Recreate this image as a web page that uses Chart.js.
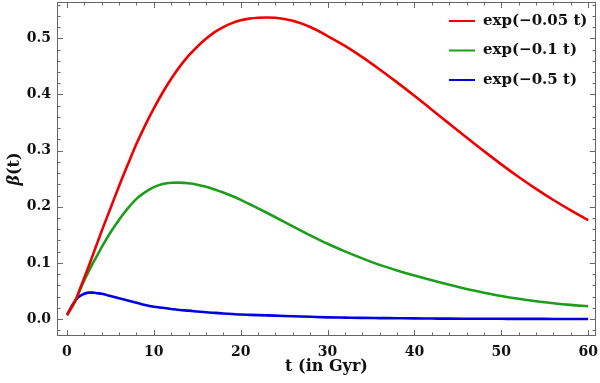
<!DOCTYPE html>
<html>
<head>
<meta charset="utf-8">
<script src="https://cdn.jsdelivr.net/npm/chart.js@4.4.1/dist/chart.umd.min.js"></script>
<style>
  html, body { margin: 0; padding: 0; background: #fff; }
  #wrap { width: 600px; height: 383px; }
</style>
</head>
<body>
<div id="wrap"><canvas id="c" width="600" height="383"></canvas></div>
<script>
// t (Gyr) sample positions, shared by all three curves
const T = [0, 0.5, 1, 1.5, 2, 2.5, 3, 3.5, 4, 5, 6, 7, 8, 9, 10, 11, 12, 13, 14, 15, 16, 17, 18, 19, 20,
           21, 22, 23, 24, 26, 28, 30, 32, 34, 36, 38, 40, 42, 44, 46, 48, 50, 52, 54, 56, 58, 60];

// beta(t)
const BETA_005 = [0.007, 0.020, 0.034, 0.054, 0.074, 0.094, 0.115, 0.136, 0.157, 0.197, 0.237, 0.275, 0.312, 0.345, 0.375,
                  0.403, 0.428, 0.450, 0.469, 0.485, 0.499, 0.511, 0.520, 0.527, 0.532,
                  0.535, 0.5365, 0.537, 0.5365, 0.531, 0.520, 0.504, 0.4865, 0.4665, 0.4445, 0.4215, 0.3975, 0.3728, 0.348, 0.3233,
                  0.299, 0.2755, 0.253, 0.2318, 0.212, 0.1935, 0.176];
const BETA_01  = [0.007, 0.020, 0.034, 0.052, 0.069, 0.085, 0.100, 0.114, 0.128, 0.154, 0.177, 0.197, 0.214, 0.226, 0.235,
                  0.2405, 0.2428, 0.243, 0.2418, 0.2392, 0.2355, 0.2308, 0.2252, 0.219, 0.2122,
                  0.2048, 0.1972, 0.1893, 0.1813, 0.165, 0.149, 0.134, 0.1205, 0.108, 0.0965, 0.0865, 0.0775, 0.069, 0.061, 0.0535,
                  0.047, 0.041, 0.036, 0.0318, 0.0282, 0.0252, 0.0228];
const BETA_05  = [0.007, 0.022, 0.034, 0.041, 0.045, 0.047, 0.047, 0.046, 0.045, 0.041, 0.037, 0.033, 0.029, 0.025, 0.022,
                  0.020, 0.018, 0.016, 0.015, 0.0135, 0.012, 0.011, 0.010, 0.009, 0.008,
                  0.0075, 0.007, 0.0065, 0.006, 0.005, 0.004, 0.003, 0.0025, 0.002, 0.0017, 0.0014, 0.0011, 0.0009, 0.0007, 0.0006,
                  0.0005, 0.0004, 0.0003, 0.0003, 0.0002, 0.0002, 0.0002];

const LABELS = ['exp(\u22120.05 t)', 'exp(\u22120.1 t)', 'exp(\u22120.5 t)'];
const COLORS = ['#ee0000', '#1c9e1c', '#0000e0'];

const X_TICKS = [0, 10, 20, 30, 40, 50, 60];
const Y_TICKS = [0, 0.1, 0.2, 0.3, 0.4, 0.5];
const X_MINOR = 2;
const Y_MINOR = 0.02;

const FONT = '"DejaVu Serif", serif';

const pts = (ys) => ys.map((y, i) => ({ x: T[i], y }));

// Mathematica-style frame: box on all four sides, ticks pointing inward
const framePlugin = {
  id: 'frame',
  afterDatasetsDraw(chart) {
    const { ctx, chartArea: a, scales: { x, y } } = chart;
    ctx.save();
    ctx.strokeStyle = '#666';
    ctx.lineWidth = 1;
    ctx.strokeRect(a.left + 0.5, a.top + 0.5, a.right - a.left - 1, a.bottom - a.top - 1);

    const tick = (px, len, vertical) => {
      ctx.beginPath();
      if (vertical) {
        ctx.moveTo(px, a.bottom); ctx.lineTo(px, a.bottom - len);
        ctx.moveTo(px, a.top);    ctx.lineTo(px, a.top + len);
      } else {
        ctx.moveTo(a.left, px);  ctx.lineTo(a.left + len, px);
        ctx.moveTo(a.right, px); ctx.lineTo(a.right - len, px);
      }
      ctx.stroke();
    };
    for (let v = Math.ceil(x.min / X_MINOR) * X_MINOR; v <= x.max; v += X_MINOR) {
      const major = Math.abs(v % 10) < 1e-6;
      tick(Math.round(x.getPixelForValue(v)) + 0.5, major ? 6 : 3.5, true);
    }
    for (let k = Math.ceil(y.min / Y_MINOR); k * Y_MINOR <= y.max; k++) {
      const major = k % 5 === 0;
      tick(Math.round(y.getPixelForValue(k * Y_MINOR)) + 0.5, major ? 6 : 3.5, false);
    }
    ctx.restore();
  }
};

// legend in the top-right corner of the plot, plus the mixed-style y title
const annotPlugin = {
  id: 'annot',
  afterDraw(chart) {
    const { ctx, chartArea: a } = chart;
    ctx.save();
    ctx.font = 'bold 15px ' + FONT;
    ctx.textBaseline = 'middle';
    chart.data.datasets.forEach((ds, i) => {
      const yy = a.top + 19 + i * 29.5;
      ctx.strokeStyle = ds.borderColor;
      ctx.lineWidth = 2;
      ctx.beginPath();
      ctx.moveTo(a.right - 147, yy);
      ctx.lineTo(a.right - 121, yy);
      ctx.stroke();
      ctx.fillStyle = '#111';
      ctx.fillText(ds.label, a.right - 113, yy);
    });

    // y-axis title: italic beta, upright (t)
    ctx.translate(15, (a.top + a.bottom) / 2);
    ctx.rotate(-Math.PI / 2);
    const p1 = '\u03b2', p2 = '(t)';
    ctx.font = 'italic bold 16px ' + FONT;
    const w1 = ctx.measureText(p1).width;
    ctx.font = 'bold 16px ' + FONT;
    const w2 = ctx.measureText(p2).width;
    const sx = -(w1 + w2) / 2;
    ctx.font = 'italic bold 16px ' + FONT;
    ctx.fillText(p1, sx, 0);
    ctx.font = 'bold 16px ' + FONT;
    ctx.fillText(p2, sx + w1, 0);
    ctx.restore();
  }
};

const series = [BETA_005, BETA_01, BETA_05];

new Chart(document.getElementById('c'), {
  type: 'line',
  data: {
    datasets: series.map((ys, i) => ({
      label: LABELS[i],
      data: pts(ys),
      borderColor: COLORS[i],
      borderWidth: 2.6,
      pointRadius: 0,
      fill: false,
      cubicInterpolationMode: 'monotone',
    })),
  },
  options: {
    responsive: false,
    animation: false,
    devicePixelRatio: 1,
    layout: { padding: { top: 2, right: 4, left: 0, bottom: 0 } },
    plugins: { legend: { display: false }, tooltip: { enabled: false } },
    scales: {
      x: {
        type: 'linear',
        min: -1.15,
        max: 60.9,
        afterBuildTicks: (s) => { s.ticks = X_TICKS.map(v => ({ value: v })); },
        afterFit: (s) => { s.height = 47; s.paddingLeft = 0; s.paddingRight = 0; },
        grid: { display: false, drawTicks: false },
        border: { display: false },
        ticks: { color: '#111', padding: 8, maxRotation: 0, autoSkip: false,
                 font: { family: FONT, size: 14, weight: 'bold' } },
        title: { display: true, text: 't (in Gyr)', color: '#111',
                 font: { family: FONT, size: 16, weight: 'bold' }, padding: { top: 0, bottom: 7 } },
      },
      y: {
        type: 'linear',
        min: -0.0302,
        max: 0.5646,
        afterBuildTicks: (s) => { s.ticks = Y_TICKS.map(v => ({ value: v })); },
        afterFit: (s) => { s.width = 57; s.paddingTop = 0; s.paddingBottom = 0; },
        grid: { display: false, drawTicks: false },
        border: { display: false },
        ticks: { color: '#111', padding: 6, autoSkip: false,
                 font: { family: FONT, size: 14, weight: 'bold' },
                 callback: (v) => Number(v).toFixed(1) },
      },
    },
  },
  plugins: [framePlugin, annotPlugin],
});
</script>
</body>
</html>
